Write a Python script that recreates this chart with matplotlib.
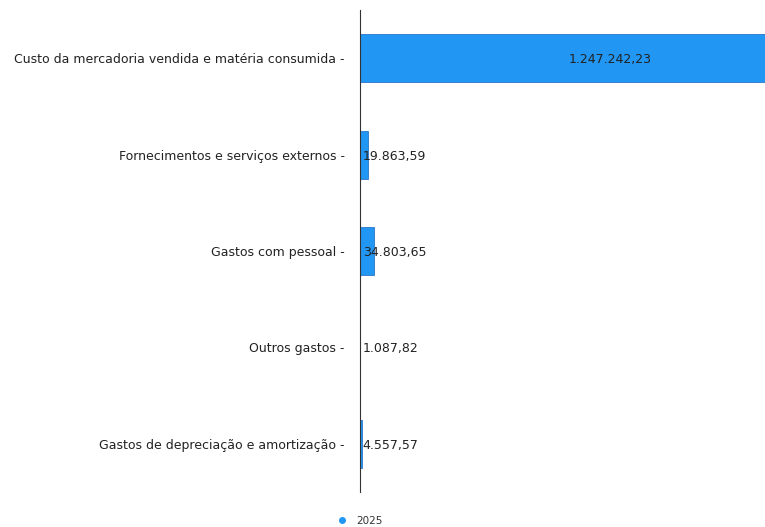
import matplotlib.pyplot as plt
from matplotlib.lines import Line2D

categorias = ['Custo da mercadoria vendida e matéria consumida',
              'Fornecimentos e serviços externos',
              'Gastos com pessoal',
              'Outros gastos',
              'Gastos de depreciação e amortização']
valores = [1247242.23, 19863.59, 34803.65, 1087.82, 4557.57]
rotulos = ['1.247.242,23', '19.863,59', '34.803,65', '1.087,82', '4.557,57']
serie = '2025'

azul = '#2196F3'
borda = '#1565C0'

fig = plt.figure(figsize=(7.65, 5.27), dpi=100)
ax = fig.add_axes([360/765, 1 - 492/527, 1 - 360/765, 482/527])

y = list(range(len(categorias)))
ax.barh(y, valores, height=0.5, color=azul, edgecolor=borda, linewidth=0.5)

ax.set_xlim(0, valores[0] * 0.81)
ax.set_ylim(len(categorias) - 0.5, -0.5)

for i, (v, r) in enumerate(zip(valores, rotulos)):
    if i == 0:
        ax.text(v / 2, i, r, ha='center', va='center_baseline', fontsize=9, color='#222222')
    else:
        ax.annotate(r, (0, i), xytext=(2, 0), textcoords='offset points',
                    ha='left', va='center_baseline', fontsize=9, color='#222222')

ax.set_yticks(y)
ax.set_yticklabels([c + ' -' for c in categorias], fontsize=9, color='#222222')
ax.tick_params(axis='y', length=0, pad=11)
ax.set_xticks([])
for s in ['top', 'right', 'bottom']:
    ax.spines[s].set_visible(False)
ax.spines['left'].set_color('#333333')
ax.spines['left'].set_linewidth(0.8)

h = [Line2D([], [], marker='o', color=azul, linestyle='', markersize=4)]
fig.legend(h, [serie], loc='center', bbox_to_anchor=(357/765, 1 - 521/527),
           frameon=False, fontsize=7.5, handletextpad=0.3, labelcolor='#333333')

fig.savefig('out.png', dpi=100)
